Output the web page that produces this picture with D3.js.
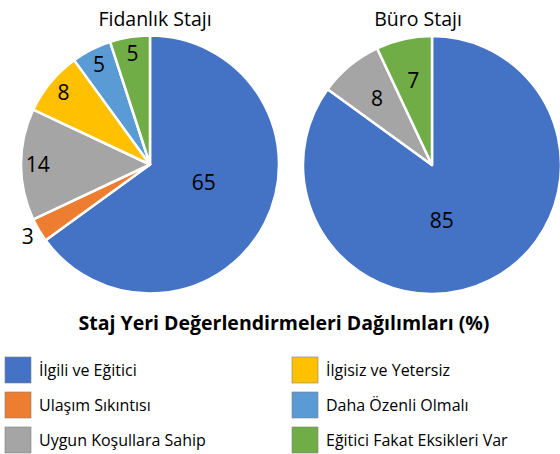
<!DOCTYPE html>
<html>
<head>
<meta charset="utf-8">
<script src="https://cdn.jsdelivr.net/npm/d3@7"></script>
<style>
  body { margin: 0; background: #fff; }
  text { font-family: "Open Sans", "Noto Sans", sans-serif; }
</style>
</head>
<body>
<div id="chart"></div>
<script>
var width = 560, height = 454;

// categories, in slice order (clockwise from 12 o'clock)
var categories = ['İlgili ve Eğitici', 'Ulaşım Sıkıntısı', 'Uygun Koşullara Sahip',
                  'İlgisiz ve Yetersiz', 'Daha Özenli Olmalı', 'Eğitici Fakat Eksikleri Var'];
var colors = ['#4472C4', '#ED7D31', '#A5A5A5', '#FFC000', '#5B9BD5', '#70AD47'];

var pieTitles = ['Fidanlık Stajı', 'Büro Stajı'];
var fidanlikValues = [65, 3, 14, 8, 5, 5];
var buroValues = [85, 0, 8, 0, 0, 7];

var chartTitle = 'Staj Yeri Değerlendirmeleri Dağılımları (%)';

var svg = d3.select('#chart')
  .append('svg')
  .attr('width', width)
  .attr('height', height);

var radius = 129;
var color = d3.scaleOrdinal().domain(categories).range(colors);

var pie = d3.pie()
  .sort(null)
  .value(function(d) { return d.value; });

var arc = d3.arc().innerRadius(0).outerRadius(radius);

// layout per pie: centre, title offset, where the small labels sit (fraction of radius)
var pies = [
  { title: pieTitles[0], values: fidanlikValues, cx: 150, cy: 164.5, titleDx: 5, labelR: 0.87 },
  { title: pieTitles[1], values: buroValues, cx: 432, cy: 165, titleDx: -14, labelR: 0.67 }
];

pies.forEach(function(p) {
  var data = categories.map(function(c, i) { return { name: c, value: p.values[i] }; });
  var g = svg.append('g').attr('transform', 'translate(' + p.cx + ',' + p.cy + ')');

  g.append('text')
    .attr('x', p.titleDx)
    .attr('y', -radius - 10)
    .attr('text-anchor', 'middle')
    .style('font-size', '19.5px')
    .style('fill', '#000')
    .text(p.title);

  var slices = pie(data).filter(function(d) { return d.data.value > 0; });

  g.selectAll('path')
    .data(slices)
    .enter()
    .append('path')
    .attr('d', arc)
    .attr('fill', function(d) { return color(d.data.name); })
    .attr('stroke', '#fff')
    .attr('stroke-width', 2.5)
    .attr('stroke-linejoin', 'round');

  g.selectAll('.lbl')
    .data(slices)
    .enter()
    .append('text')
    .attr('class', 'lbl')
    .attr('text-anchor', 'middle')
    .attr('dy', '0.35em')
    .style('font-size', '21px')
    .style('fill', '#000')
    .attr('transform', function(d) {
      var share = d.data.value / 100;
      var r = share > 0.5 ? 0.44 : (share < 0.04 ? 1.1 : p.labelR);
      var a = (d.startAngle + d.endAngle) / 2;
      if (share > 0.5) a = a + (share > 0.8 ? 0.3 : -0.14);
      return 'translate(' + (Math.sin(a) * radius * r) + ',' + (-Math.cos(a) * radius * r) + ')';
    })
    .text(function(d) { return d.data.value; });
});

svg.append('text')
  .attr('x', 284)
  .attr('y', 330)
  .attr('text-anchor', 'middle')
  .style('font-size', '19.5px')
  .style('font-weight', 'bold')
  .style('fill', '#000')
  .text(chartTitle);

// legend: two columns of three
var legend = svg.selectAll('.legend')
  .data(categories)
  .enter()
  .append('g')
  .attr('class', 'legend')
  .attr('transform', function(d, i) {
    var col = Math.floor(i / 3), row = i % 3;
    return 'translate(' + (5 + col * 287) + ',' + (357 + row * 35) + ')';
  });

legend.append('rect')
  .attr('width', 26)
  .attr('height', 26)
  .attr('fill', function(d) { return color(d); })
  .attr('stroke', '#7f7f7f')
  .attr('stroke-width', 0.6);

legend.append('text')
  .attr('x', 34)
  .attr('y', 13)
  .attr('dy', '0.35em')
  .style('font-size', '16px')
  .style('fill', '#000')
  .text(function(d) { return d; });
</script>
</body>
</html>
